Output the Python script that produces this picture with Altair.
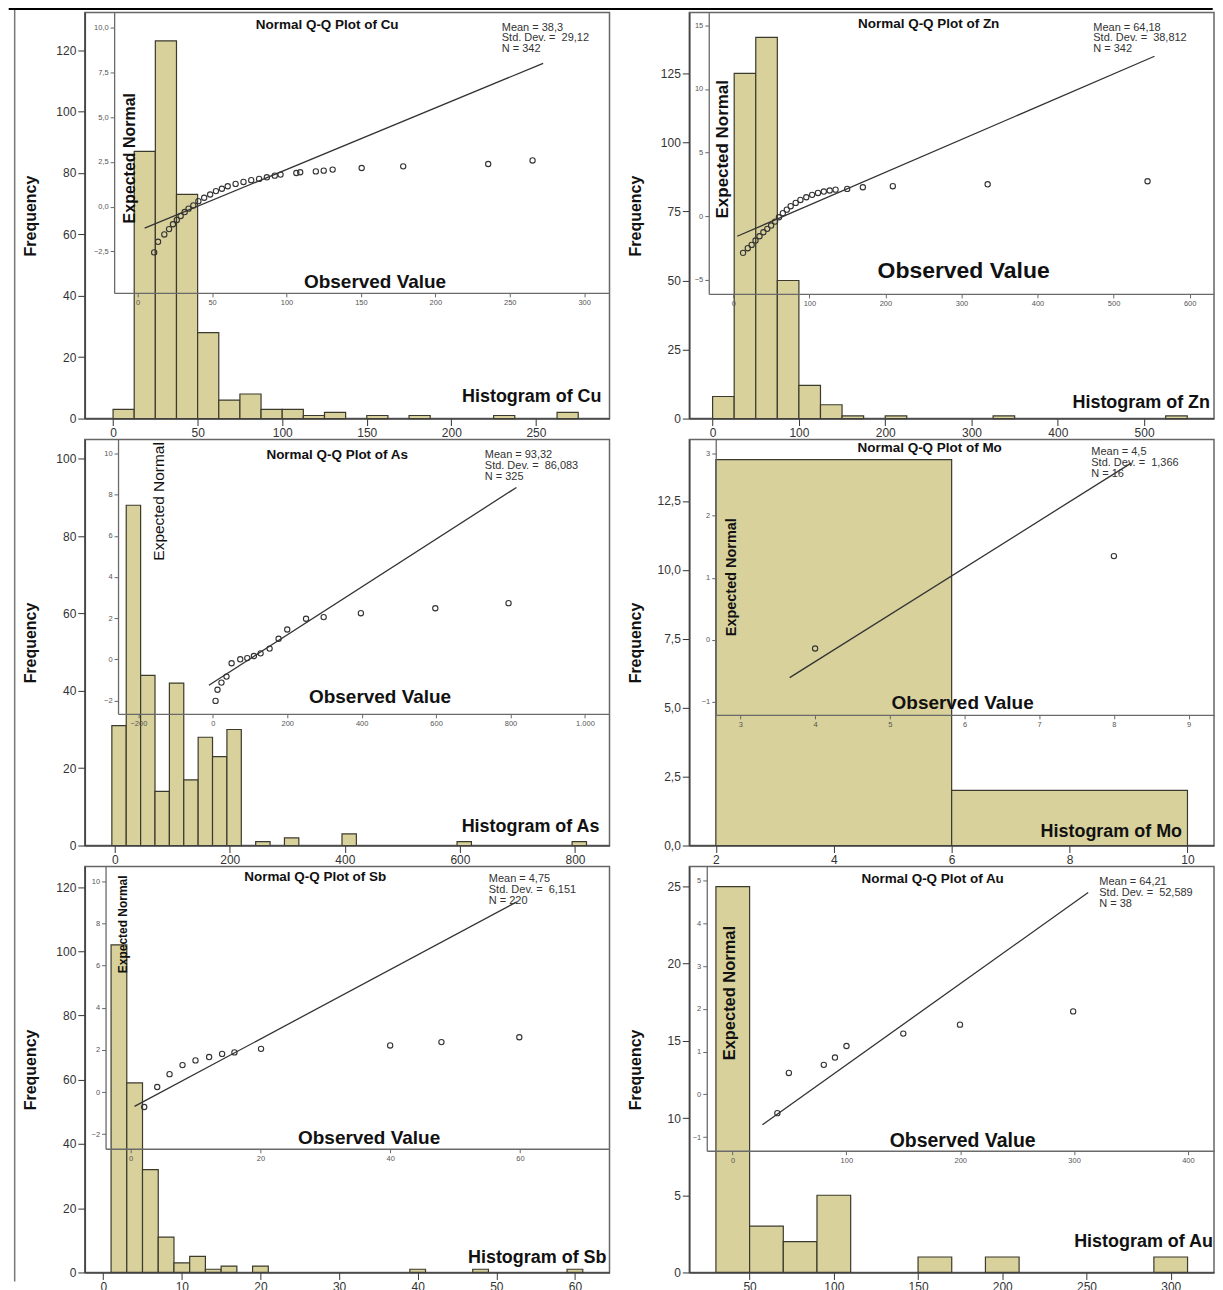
import altair as alt
import pandas as pd

FONT = "Liberation Sans"
BAR_FILL = "#D9D19C"
BAR_EDGE = "#3b3a2c"
NBSP = "\u00a0"

# ---------------- data ----------------
elements = ["Cu", "Zn", "As", "Mo", "Sb", "Au"]

# histograms: bin start, bin end, count
cu_bin_start = [0, 12.5, 25, 37.5, 50, 62.5, 75, 87.5, 100, 112.5, 125, 150, 175, 225, 262.5]
cu_bin_end = [12.5, 25, 37.5, 50, 62.5, 75, 87.5, 100, 112.5, 125, 137.5, 162.5, 187.5, 237.5, 275]
cu_counts = [3, 87, 123, 73, 28, 6, 8, 3, 3, 1, 2, 1, 1, 1, 2]

zn_bin_start = [0, 25, 50, 75, 100, 125, 150, 200, 325, 525]
zn_bin_end = [25, 50, 75, 100, 125, 150, 175, 225, 350, 550]
zn_counts = [8, 125, 138, 50, 12, 5, 1, 1, 1, 1]

as_bin_start = [-5, 20, 45, 70, 95, 120, 145, 170, 195, 245, 295, 395, 595, 795]
as_bin_end = [20, 45, 70, 95, 120, 145, 170, 195, 220, 270, 320, 420, 620, 820]
as_counts = [31, 88, 44, 14, 42, 17, 28, 23, 30, 1, 2, 3, 1, 1]

mo_bin_start = [2, 6]
mo_bin_end = [6, 10]
mo_counts = [14, 2]

sb_bin_start = [1, 3, 5, 7, 9, 11, 13, 15, 19, 39, 47, 59]
sb_bin_end = [3, 5, 7, 9, 11, 13, 15, 17, 21, 41, 49, 61]
sb_counts = [102, 59, 32, 11, 3, 5, 1, 2, 2, 1, 1, 1]

au_bin_start = [30, 50, 70, 90, 150, 190, 290]
au_bin_end = [50, 70, 90, 110, 170, 210, 310]
au_counts = [25, 3, 2, 5, 1, 1, 1]

# normal Q-Q points: observed value, expected normal
cu_qq_obs = [11.1, 13.7, 17.9, 21.1, 23.7, 26.3, 28.9, 31.6, 34.2, 37.4, 40.8, 44.7, 48.7, 52.6,
             56.6, 60.5, 65.8, 71.1, 76.3, 81.6, 86.8, 92.1, 96.0, 106.6, 109.2, 119.7, 125.0,
             131.0, 150.5, 178.4, 235.5, 265.3]
cu_qq_exp = [-2.55, -1.96, -1.55, -1.25, -0.98, -0.74, -0.52, -0.30, -0.11, 0.07, 0.31, 0.50, 0.68,
             0.87, 1.00, 1.14, 1.27, 1.38, 1.48, 1.55, 1.64, 1.73, 1.79, 1.88, 1.92, 1.97, 2.01,
             2.07, 2.16, 2.25, 2.38, 2.58]
cu_line_x = [4.7, 272.4]
cu_line_y = [-1.2, 8.0]

zn_qq_obs = [12.8, 19.0, 24.1, 29.2, 34.4, 39.5, 44.6, 49.7, 54.9, 60.0, 65.1, 70.3, 75.4, 82.0,
             88.2, 95.9, 103.6, 111.3, 119.0, 126.7, 134.4, 149.7, 170.3, 209.7, 334.4, 544.6]
zn_qq_exp = [-2.88, -2.51, -2.25, -1.91, -1.57, -1.26, -0.99, -0.73, -0.42, -0.08, 0.24, 0.52, 0.79,
             1.05, 1.28, 1.49, 1.68, 1.83, 1.94, 2.02, 2.09, 2.15, 2.28, 2.36, 2.51, 2.75]
zn_line_x = [5.1, 553.8]
zn_line_y = [-1.57, 12.57]

as_qq_obs = [7.4, 12.6, 23.2, 36.8, 50.5, 73.7, 92.6, 110.5, 128.4, 152.6, 176.8, 200.0, 250.5,
             297.9, 397.9, 597.9, 794.7]
as_qq_exp = [-2.02, -1.48, -1.13, -0.84, -0.19, 0.0, 0.06, 0.16, 0.29, 0.52, 1.0, 1.45, 1.97,
             2.05, 2.24, 2.48, 2.73]
as_line_x = [-10.5, 815.8]
as_line_y = [-1.26, 8.35]

mo_qq_obs = [4.0, 8.0]
mo_qq_exp = [-0.14, 1.35]
mo_line_x = [3.66, 8.23]
mo_line_y = [-0.61, 2.85]

sb_qq_obs = [2.1, 4.1, 6.0, 8.0, 10.0, 12.1, 14.1, 16.0, 20.1, 40.0, 47.9, 59.9]
sb_qq_exp = [-0.71, 0.24, 0.85, 1.28, 1.5, 1.66, 1.81, 1.88, 2.05, 2.21, 2.37, 2.6]
sb_line_x = [0.6, 59.5]
sb_line_y = [-0.68, 9.02]

au_qq_obs = [39.4, 49.5, 80.2, 90.0, 100.1, 150.0, 199.8, 299.2]
au_qq_exp = [-0.44, 0.5, 0.69, 0.86, 1.13, 1.42, 1.63, 1.94]
au_line_x = [26.3, 312.4]
au_line_y = [-0.71, 4.72]

# summary statistics text
stats_text = [
    ["Mean = 38,3", "Std. Dev. =  29,12", "N = 342"],
    ["Mean = 64,18", "Std. Dev. =  38,812", "N = 342"],
    ["Mean = 93,32", "Std. Dev. =  86,083", "N = 325"],
    ["Mean = 4,5", "Std. Dev. =  1,366", "N = 16"],
    ["Mean = 4,75", "Std. Dev. =  6,151", "N = 220"],
    ["Mean = 64,21", "Std. Dev. =  52,589", "N = 38"],
]

# axis tick values
hist_x_ticks = [[0, 50, 100, 150, 200, 250], [0, 100, 200, 300, 400, 500], [0, 200, 400, 600, 800],
                [2, 4, 6, 8, 10], [0, 10, 20, 30, 40, 50, 60], [50, 100, 150, 200, 250, 300]]
hist_y_ticks = [[0, 20, 40, 60, 80, 100, 120], [0, 25, 50, 75, 100, 125], [0, 20, 40, 60, 80, 100],
                [0, 2.5, 5, 7.5, 10, 12.5], [0, 20, 40, 60, 80, 100, 120], [0, 5, 10, 15, 20, 25]]
qq_x_ticks = [[0, 50, 100, 150, 200, 250, 300], [0, 100, 200, 300, 400, 500, 600],
              [-200, 0, 200, 400, 600, 800, 1000], [3, 4, 5, 6, 7, 8, 9], [0, 20, 40, 60],
              [0, 100, 200, 300, 400]]
qq_y_ticks = [[-2.5, 0, 2.5, 5, 7.5, 10], [-5, 0, 5, 10, 15], [-2, 0, 2, 4, 6, 8, 10],
              [-1, 0, 1, 2, 3], [-2, 0, 2, 4, 6, 8, 10], [-1, 0, 1, 2, 3, 4, 5]]

hist_data = [(cu_bin_start, cu_bin_end, cu_counts), (zn_bin_start, zn_bin_end, zn_counts),
             (as_bin_start, as_bin_end, as_counts), (mo_bin_start, mo_bin_end, mo_counts),
             (sb_bin_start, sb_bin_end, sb_counts), (au_bin_start, au_bin_end, au_counts)]
qq_data = [(cu_qq_obs, cu_qq_exp, cu_line_x, cu_line_y), (zn_qq_obs, zn_qq_exp, zn_line_x, zn_line_y),
           (as_qq_obs, as_qq_exp, as_line_x, as_line_y), (mo_qq_obs, mo_qq_exp, mo_line_x, mo_line_y),
           (sb_qq_obs, sb_qq_exp, sb_line_x, sb_line_y), (au_qq_obs, au_qq_exp, au_line_x, au_line_y)]

# ---------------- layout (pixels / domains per panel) ----------------
W, H = 526, 407
COMMA1 = "replace(format(datum.value, '.1f'), '.', ',')"
THOU = "replace(format(datum.value, ',.0f'), ',', '.')"
INT = "format(datum.value, 'd')"

layout = [
    dict(hx=[-16.7, 293.5], hy=[0, 132.2], hyfmt=INT, il=29.4, ib=281, qx=[-15.8, 317], qy=[-4.81, 10.83],
         qxfmt=INT, qyfmt=COMMA1, title=(243, 12), stats=(418, 9), en=(45, 146, 16, "bold"),
         ov=(291, 270, 19), hg=(518, 385)),
    dict(hx=[-27, 581], hy=[0, 147], hyfmt=INT, il=19.5, ib=282, qx=[-32.3, 632], qy=[-6.1, 16.0],
         qxfmt=INT, qyfmt=INT, title=(240, 11), stats=(405, 9), en=(34, 137, 17, "bold"),
         ov=(275, 259, 23), hg=(522, 391)),
    dict(hx=[-52, 860], hy=[0, 105], hyfmt=INT, il=33.3, ib=275, qx=[-254.7, 1066], qy=[-2.65, 10.68],
         qxfmt=THOU, qyfmt=INT, title=(253, 16), stats=(401, 10), en=(74.5, 62, 15.5, "normal"),
         ov=(296, 258, 19), hg=(516, 388)),
    dict(hx=[1.55, 10.45], hy=[0, 14.73], hyfmt=COMMA1, il=26.5, ib=276, qx=[2.67, 9.34], qy=[-1.21, 3.23],
         qxfmt=INT, qyfmt=INT, title=(241, 9), stats=(403, 7), en=(43, 138, 14.5, "bold"),
         ov=(274, 264, 19), hg=(494, 393)),
    dict(hx=[-2.34, 64.4], hy=[0, 126.4], hyfmt=INT, il=20.8, ib=283, qx=[-3.86, 73.8], qy=[-2.69, 10.7],
         qxfmt=INT, qyfmt=INT, title=(231, 11), stats=(405, 7), en=(38.5, 58, 12, "bold"),
         ov=(285, 272, 19), hg=(523, 393)),
    dict(hx=[14.2, 325.7], hy=[0, 26.3], hyfmt=INT, il=17.5, ib=285, qx=[-22.6, 422.9], qy=[-1.32, 5.33],
         qxfmt=INT, qyfmt=INT, title=(244, 13), stats=(411, 10), en=(41, 127, 16.5, "bold"),
         ov=(274, 275, 19.5), hg=(525, 376)),
]


def text_layer(s, x, y, size, weight="bold", align="center", baseline="middle", angle=0,
               color="#111", line_height=None):
    kw = dict(font=FONT, fontSize=size, fontWeight=weight, align=align, baseline=baseline,
              angle=angle, color=color)
    if line_height is not None:
        kw["lineBreak"] = "\n"
        kw["lineHeight"] = line_height
    return alt.Chart(pd.DataFrame({"t": [s]})).mark_text(**kw).encode(
        text="t:N", x=alt.value(x), y=alt.value(y))


def panel(i, extra=None):
    el = elements[i]
    L = layout[i]
    bs, be, bc = hist_data[i]
    qo, qe, lx, ly = qq_data[i]

    hist_df = pd.DataFrame({"start": bs, "end": be, "count": bc})
    bars = alt.Chart(hist_df).mark_rect(fill=BAR_FILL, stroke=BAR_EDGE, strokeWidth=1.2).encode(
        x=alt.X("start:Q", scale=alt.Scale(domain=L["hx"], nice=False, zero=False),
                axis=alt.Axis(values=hist_x_ticks[i], title=None, format="d", labelFontSize=12,
                              labelColor="#333", tickSize=7, tickColor="#333", domainColor="#444",
                              domainWidth=1.5, labelPadding=2, grid=False, zindex=1)),
        x2="end:Q",
        y=alt.Y("count:Q", scale=alt.Scale(domain=L["hy"], nice=False, zero=False),
                axis=alt.Axis(values=hist_y_ticks[i], title="Frequency", labelExpr=L["hyfmt"],
                              labelFontSize=12, labelColor="#333", tickSize=7, tickColor="#333",
                              domainColor="#444", domainWidth=1.5, labelPadding=2, grid=False,
                              titleFontSize=16, titleFontWeight="bold", titleColor="#111",
                              titleX=-54, titleY=H / 2, titleAngle=270, titleBaseline="middle",
                              titleAlign="center", zindex=1)),
        y2=alt.datum(0),
    )

    qx_scale = alt.Scale(domain=L["qx"], range=[L["il"], W], nice=False, zero=False)
    qy_scale = alt.Scale(domain=L["qy"], range=[L["ib"], 0], nice=False, zero=False)
    qx_axis = alt.Axis(orient="bottom", offset=-(H - L["ib"]), values=qq_x_ticks[i], title=None,
                       labelExpr=L["qxfmt"], labelFontSize=7.5, labelColor="#555", tickSize=4,
                       tickColor="#666", domainColor="#6a6a6a", domainWidth=1.3, labelPadding=2,
                       grid=False, zindex=2, labelOverlap=False, labelFlush=False)
    qy_axis = alt.Axis(orient="left", offset=-L["il"], values=qq_y_ticks[i], title=None,
                       labelExpr=L["qyfmt"], labelFontSize=7.5, labelColor="#555", tickSize=4,
                       tickColor="#666", domainColor="#6a6a6a", domainWidth=1.3, labelPadding=2,
                       grid=False, zindex=2, labelOverlap=False, labelFlush=False)

    line_df = pd.DataFrame({"lx": lx, "ly": ly})
    qq_df = pd.DataFrame({"obs": qo, "exp": qe})
    ref_line = alt.Chart(line_df).mark_line(color="#333", strokeWidth=1.3).encode(
        x=alt.X("lx:Q", scale=qx_scale, axis=qx_axis),
        y=alt.Y("ly:Q", scale=qy_scale, axis=qy_axis))
    pts = alt.Chart(qq_df).mark_point(shape="circle", filled=False, size=28, color="#333",
                                      strokeWidth=1.1, opacity=1).encode(
        x=alt.X("obs:Q", scale=qx_scale, axis=qx_axis),
        y=alt.Y("exp:Q", scale=qy_scale, axis=qy_axis))
    inset = alt.layer(ref_line, pts)

    tx, ty = L["title"]
    sx, sy = L["stats"]
    ex, ey, esz, ew = L["en"]
    ox, oy, osz = L["ov"]
    hx_, hy_ = L["hg"]
    stats = "\n".join(stats_text[i]).replace("  ", NBSP + " ")
    texts = [
        text_layer("Normal Q-Q Plot of " + el, tx, ty, 13.5),
        text_layer(stats, sx, sy, 11, weight="normal", align="left",
                   baseline="top", color="#333", line_height=10.8),
        text_layer("Expected Normal", ex, ey, esz, weight=ew, angle=270),
        text_layer("Observed Value", ox, oy, osz),
        text_layer("Histogram of " + el, hx_, hy_, 18, align="right"),
    ]
    layers = [bars, inset] + texts
    if extra:
        layers += extra
    return alt.layer(*layers).resolve_scale(x="independent", y="independent").properties(
        width=W, height=H)


# page frame lines (drawn from the first panel, in its pixel space)
frame_top = alt.Chart(pd.DataFrame({"a": [0]})).mark_rule(color="#000", strokeWidth=2).encode(
    x=alt.value(-76.3), x2=alt.value(1130.7), y=alt.value(-3.5))
frame_left = alt.Chart(pd.DataFrame({"a": [0]})).mark_rule(color="#777", strokeWidth=1.5).encode(
    x=alt.value(-70.3), y=alt.value(-2.5), y2=alt.value(1272))

panels = [panel(0, extra=[frame_top, frame_left])] + [panel(i) for i in range(1, 6)]

chart = alt.concat(*panels, columns=2, spacing={"column": 80, "row": 21}, bounds="flush").properties(
    padding={"left": -2, "top": -3, "right": 0, "bottom": 0}
).configure_view(stroke="#666", strokeWidth=1.5).configure_axis(
    labelFont=FONT, titleFont=FONT
).configure_text(font=FONT)

chart.save("out.html", embed_options={"renderer": "svg", "actions": False})
